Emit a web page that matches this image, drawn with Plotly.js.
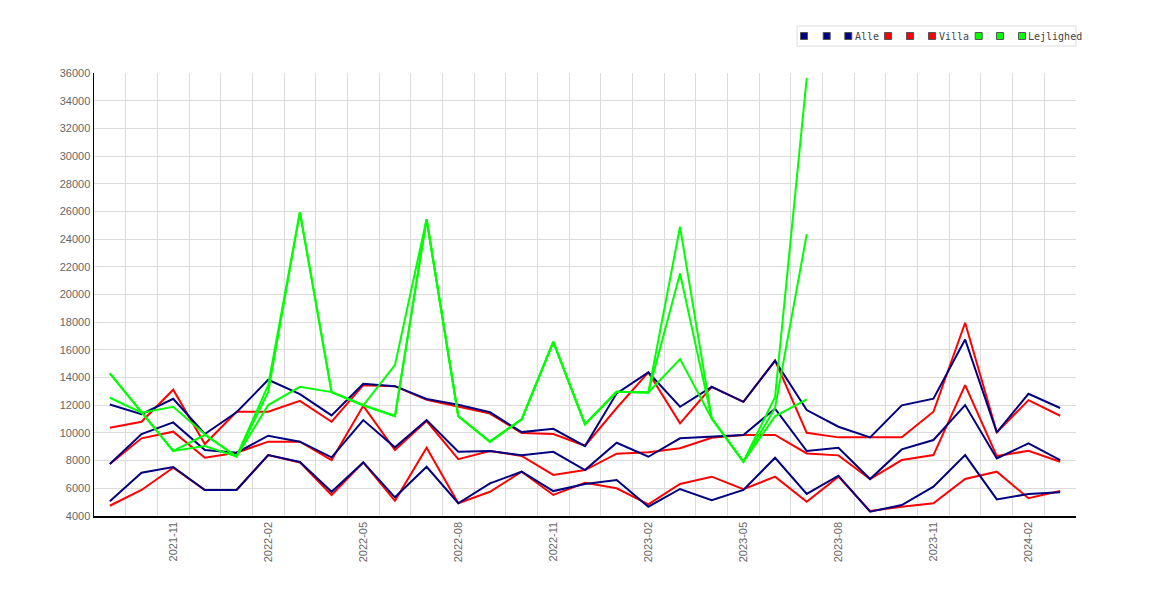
<!DOCTYPE html>
<html>
<head>
<meta charset="utf-8">
<script src="https://cdn.plot.ly/plotly-3.0.1.min.js"></script>
<style>
  html, body { margin: 0; padding: 0; background: #fff; }
  #chart { width: 1170px; height: 600px; }
</style>
</head>
<body>
<div id="chart"></div>
<script>
(function () {
    'use strict';

    const months = ['2021-09', '2021-10', '2021-11', '2021-12', '2022-01', '2022-02', '2022-03', '2022-04',
        '2022-05', '2022-06', '2022-07', '2022-08', '2022-09', '2022-10', '2022-11', '2022-12',
        '2023-01', '2023-02', '2023-03', '2023-04', '2023-05', '2023-06', '2023-07', '2023-08',
        '2023-09', '2023-10', '2023-11', '2023-12', '2024-01', '2024-02', '2024-03'];
    const tickMonths = ['2021-11', '2022-02', '2022-05', '2022-08', '2022-11', '2023-02', '2023-05',
        '2023-08', '2023-11', '2024-02'];

    // Alle
    const alleHigh = [12050, 11360, 12470, 9920, 11490, 13840, 12800, 11270, 13550, 13380, 12450, 12030,
        11490, 10060, 10300, 9050, 12860, 14380, 11890, 13330, 12250, 15210, 11650, 10450,
        9680, 11990, 12470, 16750, 10040, 12830, 11800];
    const alleMid = [7750, 9920, 10760, 8760, 8570, 9800, 9370, 8240, 10930, 8960, 10930, 8640,
        8700, 8380, 8640, 7320, 9290, 8280, 9610, 9730, 9850, 11750, 8690, 8930,
        6670, 8810, 9490, 12010, 8160, 9250, 8040];
    const alleLow = [5060, 7130, 7540, 5880, 5880, 8400, 7900, 5750, 7870, 5350, 7560, 4920,
        6360, 7200, 5800, 6310, 6600, 4670, 5950, 5150, 5880, 8210, 5590, 6910,
        4310, 4790, 6120, 8400, 5200, 5590, 5710];

    // Villa
    const villaHigh = [10380, 10810, 13120, 9200, 11530, 11530, 12320, 10810, 13450, 13380, 12390, 11900,
        11400, 10000, 9920, 9070, 11800, 14370, 10690, 13330, 12250, 15230, 10010, 9680,
        9680, 9680, 11530, 17960, 10040, 12370, 11240];
    const villaMid = [7750, 9610, 10090, 8210, 8570, 9370, 9370, 8040, 11960, 8760, 10860, 8110,
        8700, 8340, 6970, 7320, 8500, 8600, 8890, 9650, 9850, 9850, 8520, 8380,
        6670, 8040, 8400, 13460, 8330, 8710, 7920];
    const villaLow = [4740, 5880, 7490, 5880, 5880, 8400, 7870, 5520, 7870, 5100, 8930, 4920,
        5750, 7200, 5520, 6400, 6000, 4840, 6310, 6840, 5930, 6840, 5030, 6840,
        4360, 4670, 4920, 6670, 7200, 5280, 5800];

    // Lejlighed (ends 2023-07)
    const lejHigh = [14300, 11500, 8700, 9850, 8300, 13460, 25950, 12950, 12000, 14900, 25440, 11200,
        9370, 10980, 16580, 10640, 12970, 12930, 24890, 11050, 7920, 12600, 35640];
    const lejMid = [14300, 11500, 8700, 9050, 8300, 12970, 25950, 12950, 12000, 11220, 25440, 11200,
        9370, 10980, 16580, 10640, 12970, 12930, 21520, 11050, 7920, 11800, 24360];
    const lejLow = [12540, 11460, 11890, 9900, 8300, 12010, 13330, 12950, 12000, 11220, 25440, 11200,
        9370, 10980, 16580, 10640, 12970, 12930, 15330, 11050, 7920, 11200, 12420];

    const groups = [
        { name: 'Villa', color: '#ff0000', series: [villaHigh, villaMid, villaLow] },
        { name: 'Alle', color: '#000080', series: [alleHigh, alleMid, alleLow] },
        { name: 'Lejlighed', color: '#00ff00', series: [lejHigh, lejMid, lejLow] }
    ];
    const legendOrder = ['Alle', 'Villa', 'Lejlighed'];
    // centre (px) of each legend square, and where each group's label starts
    const squareCentres = [[804, 826.7, 848.3], [888, 910, 932], [978.7, 1000, 1022]];
    const labelStarts = [855, 939, 1028];

    const monthIndex = months.map((m, i) => i);
    const data = [];

    groups.forEach(function (g) {
        g.series.forEach(function (s) {
            data.push({
                x: monthIndex.slice(0, s.length),
                y: s,
                text: months.slice(0, s.length),
                type: 'scatter',
                mode: 'lines',
                line: { color: g.color, width: 2 },
                showlegend: false,
                hovertemplate: '%{text}: %{y}<extra>' + g.name + '</extra>'
            });
        });
    });

    const plotLeft = 94, plotWidth = 982, plotTop = 73, plotHeight = 443;
    const legendY = (plotTop + plotHeight - 36) / plotHeight;
    const layout = {
        width: 1170,
        height: 600,
        margin: { l: plotLeft, r: 1170 - plotLeft - plotWidth, t: plotTop, b: 600 - plotTop - plotHeight },
        paper_bgcolor: '#fff',
        plot_bgcolor: '#fff',
        showlegend: true,
        xaxis: {
            range: [-0.5, months.length - 0.5],
            tickmode: 'array',
            tickvals: tickMonths.map(m => months.indexOf(m)),
            ticktext: tickMonths,
            tickangle: -90,
            showgrid: false,
            minor: { tick0: 0.5, dtick: 1, showgrid: true, gridcolor: '#dcdcdc', gridwidth: 1, ticks: '' },
            zeroline: false,
            showline: true,
            linecolor: '#000',
            linewidth: 1.5,
            ticks: '',
            tickfont: { family: 'Liberation Sans, Arial, sans-serif', size: 11, color: '#666' }
        },
        yaxis: {
            range: [4000, 36000],
            tick0: 4000,
            dtick: 2000,
            tickformat: 'd',
            showgrid: true,
            gridcolor: '#dcdcdc',
            gridwidth: 1,
            zeroline: false,
            showline: true,
            linecolor: '#000',
            linewidth: 1.5,
            ticks: '',
            tickfont: { family: 'Liberation Sans, Arial, sans-serif', size: 11, color: '#666' }
        },
        shapes: [{
            type: 'rect',
            xref: 'paper', yref: 'paper',
            x0: (797 - plotLeft) / plotWidth, x1: (1076 - plotLeft) / plotWidth,
            y0: (plotTop + plotHeight - 46) / plotHeight, y1: (plotTop + plotHeight - 26) / plotHeight,
            line: { color: '#dcdcdc', width: 1 },
            fillcolor: 'rgba(0,0,0,0)'
        }]
    };

    let n = 0;
    function addLegend(trace, leftPx) {
        const key = n === 0 ? 'legend' : 'legend' + (n + 1);
        trace.legend = key;
        data.push(trace);
        layout[key] = {
            x: (leftPx - plotLeft) / plotWidth,
            xanchor: 'left',
            y: legendY,
            yanchor: 'middle',
            orientation: 'h',
            bgcolor: 'rgba(0,0,0,0)',
            borderwidth: 0,
            font: { family: 'DejaVu Sans Mono, monospace', size: 10, color: '#444' }
        };
        n++;
    }

    legendOrder.forEach(function (name, gi) {
        const g = groups.find(gr => gr.name === name);
        // one square per series
        g.series.forEach(function (s, k) {
            addLegend({
                x: [null], y: [null],
                type: 'scatter',
                mode: 'markers',
                name: '',
                marker: { symbol: 'square', size: 7, color: g.color, line: { color: '#555', width: 1 } },
                hoverinfo: 'skip'
            }, squareCentres[gi][k] - 20);
        });
        // group label right after the third square
        addLegend({
            x: [null], y: [null],
            type: 'scatter',
            mode: 'markers',
            name: g.name,
            marker: { size: 1, color: 'rgba(0,0,0,0)' },
            hoverinfo: 'skip'
        }, labelStarts[gi] - 40);
    });

    Plotly.newPlot('chart', data, layout, { displayModeBar: false, staticPlot: true });
}());
</script>
</body>
</html>
